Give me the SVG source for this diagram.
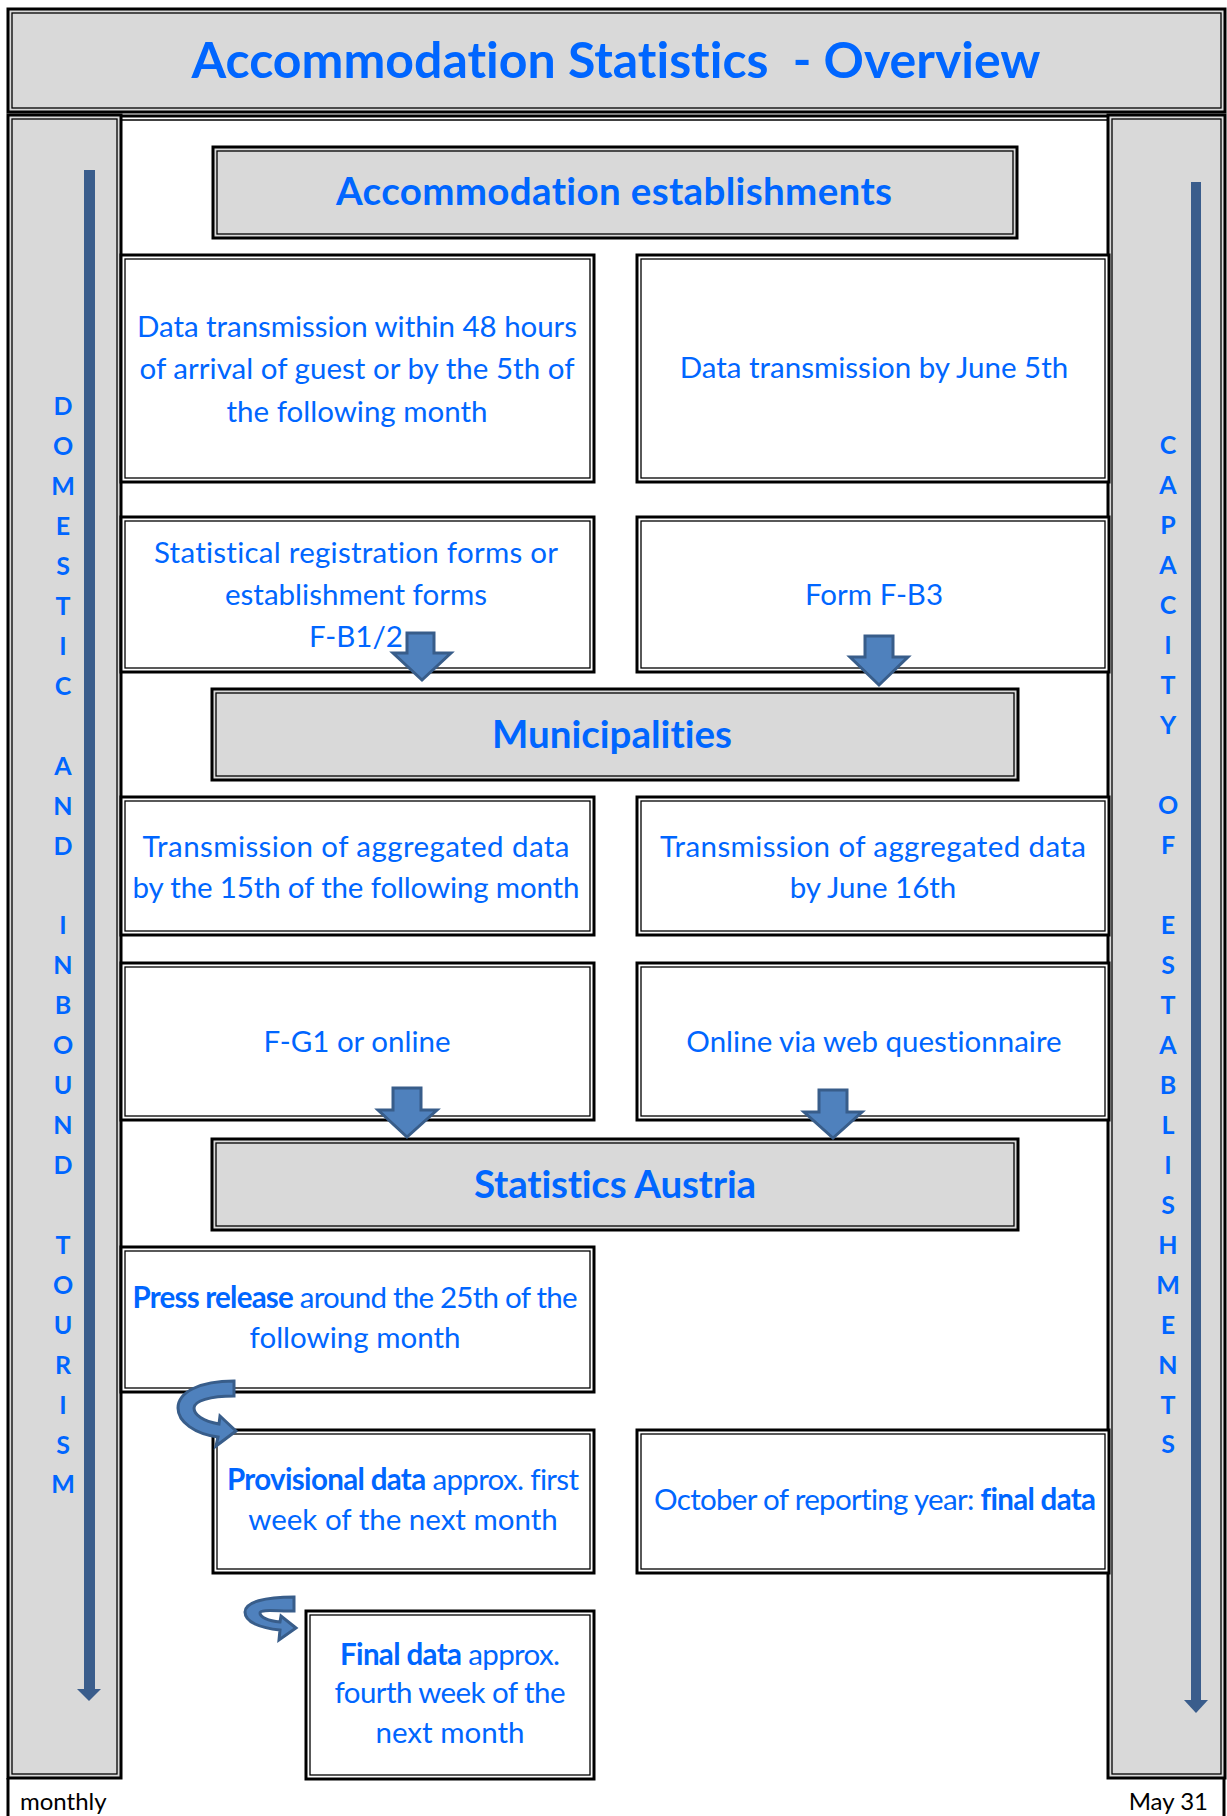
<svg xmlns="http://www.w3.org/2000/svg" width="1227" height="1816" viewBox="0 0 1227 1816">
<style>
.o{fill:none;stroke:#000;stroke-width:3}
.i{fill:none;stroke:#000;stroke-width:1.3}
.g{fill:#d9d9d9}
.w{fill:#fff}
text{font-family:Lato,"Open Sans","Liberation Sans",sans-serif;fill:#0066ff;font-variant-ligatures:none;font-feature-settings:"liga" 0}
.b{font-size:29.5px;text-anchor:middle}
.h{font-size:38.5px;font-weight:bold;text-anchor:middle}
.v{font-size:25px;font-weight:bold;text-anchor:middle}
.k{fill:#000;font-size:24px}
.bar{fill:#3a5d8c}
.ba{fill:#4f81bd;stroke:#385d8a;stroke-width:3;stroke-linejoin:miter}
</style>
<rect x="0" y="0" width="1227" height="1816" fill="#fff"/>
<g id="title">
<rect class="g" x="8" y="9" width="1217" height="103"/>
<rect class="o" x="8" y="9" width="1217" height="103"/>
<rect class="i" x="12" y="13" width="1209" height="95"/>
<text x="616" y="78" xml:space="preserve" textLength="849" style="font-size:50px;font-weight:bold;text-anchor:middle">Accommodation Statistics  - Overview</text>
</g>
<g id="center-frame">
<line x1="121" y1="116" x2="1108" y2="116" stroke="#000" stroke-width="3"/>
<line x1="121" y1="120" x2="1108" y2="120" stroke="#000" stroke-width="1.3"/>
</g>
<g id="left-column">
<rect class="g" x="8" y="115" width="113" height="1663"/>
<rect class="o" x="8" y="115" width="113" height="1663"/>
<rect class="i" x="12" y="119" width="105" height="1655"/>
<rect class="bar" x="84" y="170" width="11" height="1520"/>
<polygon class="bar" points="77,1689 101,1689 89,1701"/>
<text class="v" x="63" y="415">D</text>
<text class="v" x="63" y="455">O</text>
<text class="v" x="63" y="495">M</text>
<text class="v" x="63" y="535">E</text>
<text class="v" x="63" y="575">S</text>
<text class="v" x="63" y="615">T</text>
<text class="v" x="63" y="655">I</text>
<text class="v" x="63" y="695">C</text>
<text class="v" x="63" y="775">A</text>
<text class="v" x="63" y="815">N</text>
<text class="v" x="63" y="855">D</text>
<text class="v" x="63" y="934">I</text>
<text class="v" x="63" y="974">N</text>
<text class="v" x="63" y="1014">B</text>
<text class="v" x="63" y="1054">O</text>
<text class="v" x="63" y="1094">U</text>
<text class="v" x="63" y="1134">N</text>
<text class="v" x="63" y="1174">D</text>
<text class="v" x="63" y="1254">T</text>
<text class="v" x="63" y="1294">O</text>
<text class="v" x="63" y="1334">U</text>
<text class="v" x="63" y="1374">R</text>
<text class="v" x="63" y="1414">I</text>
<text class="v" x="63" y="1454">S</text>
<text class="v" x="63" y="1493">M</text>
</g>
<g id="right-column">
<rect class="g" x="1108" y="115" width="117" height="1663"/>
<rect class="o" x="1108" y="115" width="117" height="1663"/>
<rect class="i" x="1112" y="119" width="109" height="1655"/>
<rect class="bar" x="1191" y="182" width="10" height="1519"/>
<polygon class="bar" points="1184,1700 1208,1700 1196,1713"/>
<text class="v" x="1168" y="454">C</text>
<text class="v" x="1168" y="494">A</text>
<text class="v" x="1168" y="534">P</text>
<text class="v" x="1168" y="574">A</text>
<text class="v" x="1168" y="614">C</text>
<text class="v" x="1168" y="654">I</text>
<text class="v" x="1168" y="694">T</text>
<text class="v" x="1168" y="734">Y</text>
<text class="v" x="1168" y="814">O</text>
<text class="v" x="1168" y="854">F</text>
<text class="v" x="1168" y="934">E</text>
<text class="v" x="1168" y="974">S</text>
<text class="v" x="1168" y="1014">T</text>
<text class="v" x="1168" y="1054">A</text>
<text class="v" x="1168" y="1094">B</text>
<text class="v" x="1168" y="1134">L</text>
<text class="v" x="1168" y="1174">I</text>
<text class="v" x="1168" y="1214">S</text>
<text class="v" x="1168" y="1254">H</text>
<text class="v" x="1168" y="1294">M</text>
<text class="v" x="1168" y="1334">E</text>
<text class="v" x="1168" y="1374">N</text>
<text class="v" x="1168" y="1414">T</text>
<text class="v" x="1168" y="1453">S</text>
</g>
<g id="footer">
<line x1="8" y1="1778" x2="8" y2="1816" stroke="#000" stroke-width="3"/>
<line x1="1224" y1="1778" x2="1224" y2="1816" stroke="#000" stroke-width="3"/>
<text class="k" x="20" y="1810">monthly</text>
<text class="k" x="1208" y="1810" style="text-anchor:end">May 31</text>
</g>
<g id="accommodation-establishments">
<rect class="g" x="213" y="147" width="804" height="91"/>
<rect class="o" x="213" y="147" width="804" height="91"/>
<rect class="i" x="217" y="151" width="796" height="83"/>
<text class="h" x="614" y="205" textLength="556">Accommodation establishments</text>
</g>
<g id="r1l">
<rect class="w" x="121" y="255" width="473" height="227"/>
<rect class="o" x="121" y="255" width="473" height="227"/>
<rect class="i" x="125" y="259" width="465" height="219"/>
<text class="b" x="357" y="337" textLength="440">Data transmission within 48 hours</text>
<text class="b" x="357" y="379" textLength="435">of arrival of guest or by the 5th of</text>
<text class="b" x="357" y="422">the following month</text>
</g>
<g id="r1r">
<rect class="w" x="637" y="255" width="472" height="227"/>
<rect class="o" x="637" y="255" width="472" height="227"/>
<rect class="i" x="641" y="259" width="464" height="219"/>
<text class="b" x="874" y="378">Data transmission by June 5th</text>
</g>
<g id="r2l">
<rect class="w" x="121" y="517" width="473" height="155"/>
<rect class="o" x="121" y="517" width="473" height="155"/>
<rect class="i" x="125" y="521" width="465" height="147"/>
<text class="b" x="356" y="563" textLength="404">Statistical registration forms or</text>
<text class="b" x="356" y="605">establishment forms</text>
<text class="b" x="356" y="647">F-B1/2</text>
</g>
<g id="r2r">
<rect class="w" x="637" y="517" width="472" height="155"/>
<rect class="o" x="637" y="517" width="472" height="155"/>
<rect class="i" x="641" y="521" width="464" height="147"/>
<text class="b" x="874" y="605">Form F-B3</text>
</g>
<g id="municipalities">
<rect class="g" x="212" y="689" width="806" height="91"/>
<rect class="o" x="212" y="689" width="806" height="91"/>
<rect class="i" x="216" y="693" width="798" height="83"/>
<text class="h" x="612" y="748" textLength="240">Municipalities</text>
</g>
<g id="r3l">
<rect class="w" x="121" y="797" width="473" height="138"/>
<rect class="o" x="121" y="797" width="473" height="138"/>
<rect class="i" x="125" y="801" width="465" height="130"/>
<text class="b" x="356" y="857" textLength="427">Transmission of aggregated data</text>
<text class="b" x="356" y="898" textLength="447">by the 15th of the following month</text>
</g>
<g id="r3r">
<rect class="w" x="637" y="797" width="472" height="138"/>
<rect class="o" x="637" y="797" width="472" height="138"/>
<rect class="i" x="641" y="801" width="464" height="130"/>
<text class="b" x="873" y="857" textLength="426">Transmission of aggregated data</text>
<text class="b" x="873" y="898">by June 16th</text>
</g>
<g id="r4l">
<rect class="w" x="121" y="963" width="473" height="157"/>
<rect class="o" x="121" y="963" width="473" height="157"/>
<rect class="i" x="125" y="967" width="465" height="149"/>
<text class="b" x="357" y="1052">F-G1 or online</text>
</g>
<g id="r4r">
<rect class="w" x="637" y="963" width="472" height="157"/>
<rect class="o" x="637" y="963" width="472" height="157"/>
<rect class="i" x="641" y="967" width="464" height="149"/>
<text class="b" x="874" y="1052">Online via web questionnaire</text>
</g>
<g id="statistics-austria">
<rect class="g" x="212" y="1139" width="806" height="91"/>
<rect class="o" x="212" y="1139" width="806" height="91"/>
<rect class="i" x="216" y="1143" width="798" height="83"/>
<text class="h" x="615" y="1198" textLength="282">Statistics Austria</text>
</g>
<g id="press-release">
<rect class="w" x="121" y="1247" width="473" height="145"/>
<rect class="o" x="121" y="1247" width="473" height="145"/>
<rect class="i" x="125" y="1251" width="465" height="137"/>
<text class="b" x="355" y="1308" textLength="445"><tspan font-weight="bold">Press release</tspan> around the 25th of the</text>
<text class="b" x="355" y="1348">following month</text>
</g>
<g id="provisional-data">
<rect class="w" x="213" y="1430" width="381" height="143"/>
<rect class="o" x="213" y="1430" width="381" height="143"/>
<rect class="i" x="217" y="1434" width="373" height="135"/>
<text class="b" x="403" y="1490" textLength="352"><tspan font-weight="bold">Provisional data</tspan> approx. first</text>
<text class="b" x="403" y="1530">week of the next month</text>
</g>
<g id="october-final">
<rect class="w" x="637" y="1430" width="472" height="143"/>
<rect class="o" x="637" y="1430" width="472" height="143"/>
<rect class="i" x="641" y="1434" width="464" height="135"/>
<text class="b" x="875" y="1510" textLength="442">October of reporting year: <tspan font-weight="bold">final data</tspan></text>
</g>
<g id="final-data">
<rect class="w" x="306" y="1611" width="288" height="168"/>
<rect class="o" x="306" y="1611" width="288" height="168"/>
<rect class="i" x="310" y="1615" width="280" height="160"/>
<text class="b" x="450" y="1665" textLength="220"><tspan font-weight="bold">Final data</tspan> approx.</text>
<text class="b" x="450" y="1703" textLength="231">fourth week of the</text>
<text class="b" x="450" y="1743">next month</text>
</g>
<g id="connectors">
<polygon class="ba" points="407,633 434,633 434,653 451,653 422,680 393,653 407,653"/>
<polygon class="ba" points="865,636 893,636 893,657 908,657 879,685 850,657 865,657"/>
<polygon class="ba" points="393,1088 421,1088 421,1110 437,1110 407,1137 378,1110 393,1110"/>
<polygon class="ba" points="819,1090 847,1090 847,1112 862,1112 833,1138 804,1112 819,1112"/>
<path class="ba" d="M234,1381 C200,1381 178,1392 178,1408 C178,1422 195,1434 218,1437 L216,1446 L236,1431 L220,1416 L219,1424 C203,1421 194,1415 194,1408 C194,1401 210,1396 234,1396 Z"/>
<path class="ba" d="M294,1597 C265,1597 245,1602 245,1612 C245,1622 260,1628 280,1630 L279,1640 L296,1628 L281,1616 L280,1622 C268,1621 260,1617 260,1613 C260,1609 275,1611 294,1611 Z"/>
</g>
</svg>
